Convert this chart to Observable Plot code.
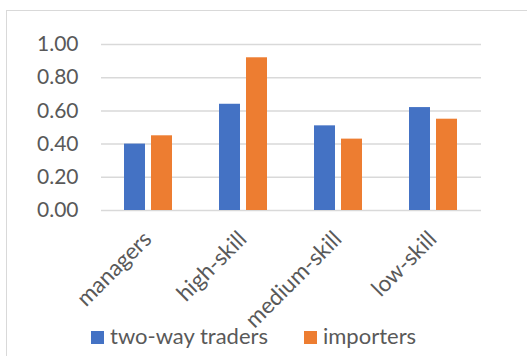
<!DOCTYPE html>
<html><head><meta charset="utf-8">
<script src="https://cdn.jsdelivr.net/npm/d3@7"></script>
<script src="https://cdn.jsdelivr.net/npm/@observablehq/plot@0.6"></script>
<style>
html,body{margin:0;padding:0;background:#fff;width:527px;height:356px;overflow:hidden;}
#frame{position:absolute;left:6px;top:10px;width:600px;height:400px;border:1px solid #d9d9d9;}
#chart{position:absolute;left:0;top:0;}
#legend{position:absolute;left:0;top:0;width:527px;height:356px;font-family:Lato,sans-serif;font-size:22px;color:#595959;}
.sw{position:absolute;width:13px;height:13px;top:331px;}
.lt{position:absolute;top:323px;line-height:26px;white-space:nowrap;}
</style></head>
<body>
<div id="frame"></div>
<div id="chart"></div>
<div id="legend"></div>
<script>
const categories = ["managers", "high-skill", "medium-skill", "low-skill"];
const seriesNames = ["two-way traders", "importers"];
const twoWayTraders = [0.40, 0.64, 0.51, 0.62];
const importers = [0.45, 0.92, 0.43, 0.55];
const yTicks = [0, 0.2, 0.4, 0.6, 0.8, 1.0];
const colors = ["#4472C4", "#ED7D31"];

const data = [];
categories.forEach((c, i) => {
  data.push({category: c, series: seriesNames[0], value: twoWayTraders[i]});
  data.push({category: c, series: seriesNames[1], value: importers[i]});
});

const chart = Plot.plot({
  width: 527, height: 356,
  marginLeft: 99, marginRight: 45, marginTop: 44, marginBottom: 146,
  style: {fontFamily: "Lato, sans-serif", fontSize: "21px", color: "#595959", background: "transparent"},
  fx: {domain: categories, padding: 0, label: null},
  x: {domain: seriesNames, paddingInner: 0.21, paddingOuter: 0.85, axis: null},
  y: {domain: [0, 1], label: null},
  color: {domain: seriesNames, range: colors},
  marks: [
    Plot.ruleY(yTicks, {stroke: "#d9d9d9", strokeWidth: 1.5}),
    Plot.barY(data, {fx: "category", x: "series", y: "value", fill: "series"}),
    Plot.axisY({ticks: yTicks, tickSize: 0, tickPadding: 23, tickFormat: d => d.toFixed(2), label: null, fill: "#595959"}),
    Plot.axisFx({anchor: "bottom", tickRotate: -45, tickSize: 0, tickPadding: 30, lineAnchor: "bottom", dx: 4, fontSize: 22.5, label: null, fill: "#595959"})
  ]
});
document.getElementById("chart").appendChild(chart);

const legend = document.getElementById("legend");
const swX = [91, 304];
const txX = [110, 323];
seriesNames.forEach((s, i) => {
  const sw = document.createElement("div");
  sw.className = "sw"; sw.style.left = swX[i] + "px"; sw.style.background = colors[i];
  legend.appendChild(sw);
  const t = document.createElement("div");
  t.className = "lt"; t.style.left = txX[i] + "px"; t.textContent = s;
  legend.appendChild(t);
});
</script>
</body></html>
